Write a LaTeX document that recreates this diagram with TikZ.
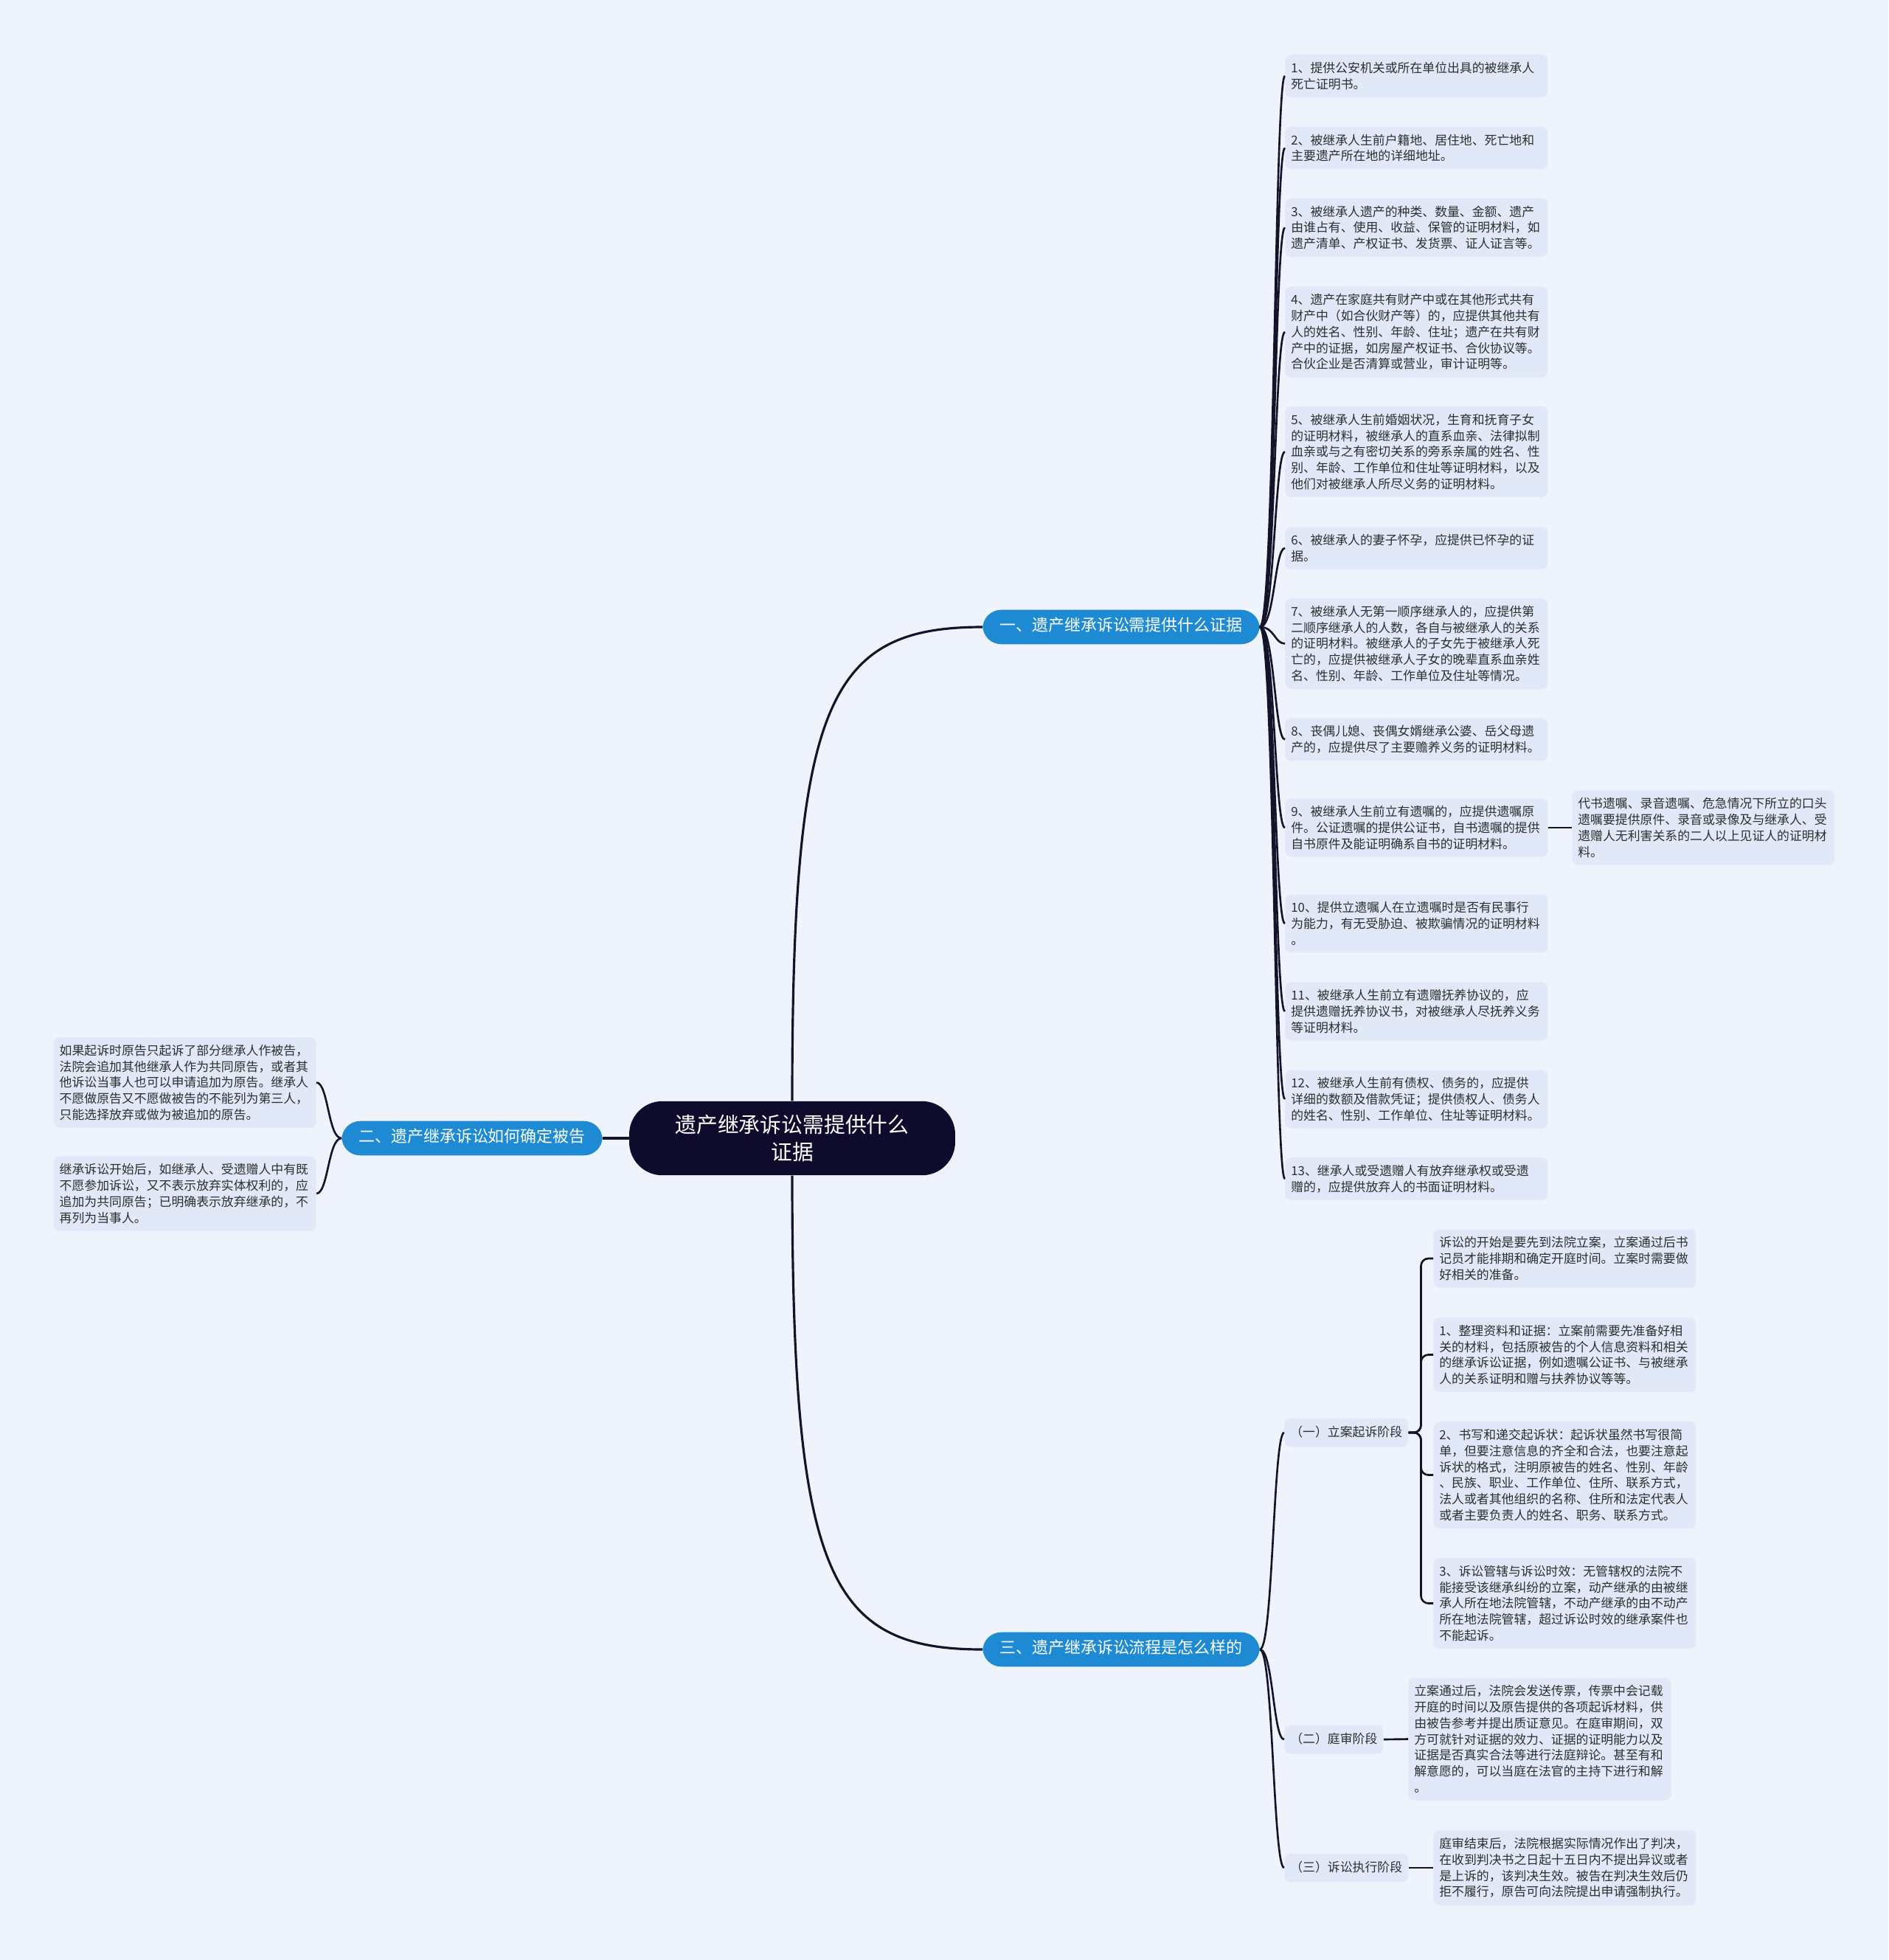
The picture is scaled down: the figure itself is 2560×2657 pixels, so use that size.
\documentclass[tikz,border=0pt]{standalone}
\usepackage{fontspec}
\setmainfont{Noto Sans CJK SC}
\definecolor{bgPale}{HTML}{EEF3FC}
\definecolor{leafFill}{HTML}{E1E9F8}
\definecolor{leafInk}{HTML}{2E2E2E}
\definecolor{topicBlue}{HTML}{1E8AD3}
\definecolor{rootNavy}{HTML}{0E0B2C}
\definecolor{linkInk}{HTML}{15132A}
\newcommand{\leafFont}{\fontsize{9.6}{12.4}\selectfont}
\tikzset{
  leaf/.style={fill=leafFill, text=leafInk, rounded corners=0.16cm, font=\leafFont,
               align=left, text width=6.8cm, inner xsep=0.16cm, inner ysep=0.2cm},
  stage/.style={fill=leafFill, text=leafInk, rounded corners=0.16cm, font=\leafFont,
                text height=0.8em, text depth=0.2em, inner xsep=0.16cm, inner ysep=0.21cm},
  topic/.style={fill=topicBlue, text=white, rounded corners=0.5cm, font=\fontsize{12.5}{15}\selectfont,
                text height=0.8em, text depth=0.2em, inner xsep=0.46cm, inner ysep=0.29cm},
  link/.style={draw=linkInk, line width=1.5pt},
  mainLink/.style={draw=linkInk, line width=1.8pt},
}
\begin{document}
\begin{tikzpicture}[x=0.02cm, y=-0.02cm]
  \fill[bgPale] (0,0) rectangle (2560,2657);
  \useasboundingbox (0,0) rectangle (2560,2657);
  % --- centre and the three topics ---
  \node[fill=rootNavy, text=white, rounded corners=0.9cm, align=center,
        font=\fontsize{16.4}{21}\selectfont, inner xsep=1.25cm, inner ysep=0.37cm]
    (root) at (1074,1543) {遗产继承诉讼需提供什么\\证据};
  \node[topic] (topicA) at (1520,850) {一、遗产继承诉讼需提供什么证据};
  \node[topic] (topicB) at (640,1543) {二、遗产继承诉讼如何确定被告};
  \node[topic] (topicC) at (1520,2236) {三、遗产继承诉讼流程是怎么样的};
  \draw[mainLink] (root.north) .. controls +(0,-540) and +(-210,0) .. (topicA.west);
  \draw[mainLink] (root.south) .. controls +(0,540) and +(-210,0) .. (topicC.west);
  \draw[mainLink] (root.west) -- (topicB.east);
  % --- topic one: the evidence list ---
  \node[leaf, anchor=west] (ev1) at (1742,103) {1、提供公安机关或所在单位出具的被继承人\\死亡证明书。};
  \node[leaf, anchor=west] (ev2) at (1742,200.5) {2、被继承人生前户籍地、居住地、死亡地和\\主要遗产所在地的详细地址。};
  \node[leaf, anchor=west] (ev3) at (1742,308.5) {3、被继承人遗产的种类、数量、金额、遗产\\由谁占有、使用、收益、保管的证明材料，如\\遗产清单、产权证书、发货票、证人证言等。};
  \node[leaf, anchor=west] (ev4) at (1742,450) {4、遗产在家庭共有财产中或在其他形式共有\\财产中（如合伙财产等）的，应提供其他共有\\人的姓名、性别、年龄、住址；遗产在共有财\\产中的证据，如房屋产权证书、合伙协议等。\\合伙企业是否清算或营业，审计证明等。};
  \node[leaf, anchor=west] (ev5) at (1742,612.5) {5、被继承人生前婚姻状况，生育和抚育子女\\的证明材料，被继承人的直系血亲、法律拟制\\血亲或与之有密切关系的旁系亲属的姓名、性\\别、年龄、工作单位和住址等证明材料，以及\\他们对被继承人所尽义务的证明材料。};
  \node[leaf, anchor=west] (ev6) at (1742,743) {6、被继承人的妻子怀孕，应提供已怀孕的证\\据。};
  \node[leaf, anchor=west] (ev7) at (1742,872.5) {7、被继承人无第一顺序继承人的，应提供第\\二顺序继承人的人数，各自与被继承人的关系\\的证明材料。被继承人的子女先于被继承人死\\亡的，应提供被继承人子女的晚辈直系血亲姓\\名、性别、年龄、工作单位及住址等情况。};
  \node[leaf, anchor=west] (ev8) at (1742,1002.5) {8、丧偶儿媳、丧偶女婿继承公婆、岳父母遗\\产的，应提供尽了主要赡养义务的证明材料。};
  \node[leaf, anchor=west] (ev9) at (1742,1122) {9、被继承人生前立有遗嘱的，应提供遗嘱原\\件。公证遗嘱的提供公证书，自书遗嘱的提供\\自书原件及能证明确系自书的证明材料。};
  \node[leaf, anchor=west] (ev10) at (1742,1252) {10、提供立遗嘱人在立遗嘱时是否有民事行\\为能力，有无受胁迫、被欺骗情况的证明材料\\。};
  \node[leaf, anchor=west] (ev11) at (1742,1371) {11、被继承人生前立有遗赠抚养协议的，应\\提供遗赠抚养协议书，对被继承人尽抚养义务\\等证明材料。};
  \node[leaf, anchor=west] (ev12) at (1742,1490) {12、被继承人生前有债权、债务的，应提供\\详细的数额及借款凭证；提供债权人、债务人\\的姓名、性别、工作单位、住址等证明材料。};
  \node[leaf, anchor=west] (ev13) at (1742,1598) {13、继承人或受遗赠人有放弃继承权或受遗\\赠的，应提供放弃人的书面证明材料。};
  \node[leaf, anchor=west] (evWill) at (2131,1122) {代书遗嘱、录音遗嘱、危急情况下所立的口头\\遗嘱要提供原件、录音或录像及与继承人、受\\遗赠人无利害关系的二人以上见证人的证明材\\料。};
  \foreach \i in {1,...,13} {
    \draw[link] (topicA.east) .. controls +(20,0) and +(-14,0) .. (ev\i.west);
  }
  \draw[link] (ev9.east) -- (evWill.west);
  % --- topic two: who is the defendant ---
  \node[leaf, anchor=east] (def1) at (429,1467.5) {如果起诉时原告只起诉了部分继承人作被告，\\法院会追加其他继承人作为共同原告，或者其\\他诉讼当事人也可以申请追加为原告。继承人\\不愿做原告又不愿做被告的不能列为第三人，\\只能选择放弃或做为被追加的原告。};
  \node[leaf, anchor=east] (def2) at (429,1618) {继承诉讼开始后，如继承人、受遗赠人中有既\\不愿参加诉讼，又不表示放弃实体权利的，应\\追加为共同原告；已明确表示放弃继承的，不\\再列为当事人。};
  \foreach \i in {1,2} {
    \draw[link] (topicB.west) .. controls +(-18,0) and +(16,0) .. (def\i.east);
  }
  % --- topic three: the stages ---
  \node[stage, anchor=west] (st1) at (1741,1942) {（一）立案起诉阶段};
  \node[stage, anchor=west] (st2) at (1741,2358) {（二）庭审阶段};
  \node[stage, anchor=west] (st3) at (1741,2532) {（三）诉讼执行阶段};
  \foreach \i in {1,2,3} {
    \draw[link] (topicC.east) .. controls +(18,0) and +(-15,0) .. (st\i.west);
  }
  \node[leaf, anchor=west] (stA1) at (1943,1706) {诉讼的开始是要先到法院立案，立案通过后书\\记员才能排期和确定开庭时间。立案时需要做\\好相关的准备。};
  \node[leaf, anchor=west] (stA2) at (1943,1836.5) {1、整理资料和证据：立案前需要先准备好相\\关的材料，包括原被告的个人信息资料和相关\\的继承诉讼证据，例如遗嘱公证书、与被继承\\人的关系证明和赠与扶养协议等等。};
  \node[leaf, anchor=west] (stA3) at (1943,1999.5) {2、书写和递交起诉状：起诉状虽然书写很简\\单，但要注意信息的齐全和合法，也要注意起\\诉状的格式，注明原被告的姓名、性别、年龄\\、民族、职业、工作单位、住所、联系方式，\\法人或者其他组织的名称、住所和法定代表人\\或者主要负责人的姓名、职务、联系方式。};
  \node[leaf, anchor=west] (stA4) at (1943,2173.5) {3、诉讼管辖与诉讼时效：无管辖权的法院不\\能接受该继承纠纷的立案，动产继承的由被继\\承人所在地法院管辖，不动产继承的由不动产\\所在地法院管辖，超过诉讼时效的继承案件也\\不能起诉。};
  \foreach \i in {1,...,4} {
    \draw[link, rounded corners=0.2cm] (st1.east) -- ++(17,0) |- (stA\i.west);
  }
  \node[leaf, anchor=west] (stB) at (1909,2357.5) {立案通过后，法院会发送传票，传票中会记载\\开庭的时间以及原告提供的各项起诉材料，供\\由被告参考并提出质证意见。在庭审期间，双\\方可就针对证据的效力、证据的证明能力以及\\证据是否真实合法等进行法庭辩论。甚至有和\\解意愿的，可以当庭在法官的主持下进行和解\\。};
  \node[leaf, anchor=west] (stC) at (1943,2532) {庭审结束后，法院根据实际情况作出了判决，\\在收到判决书之日起十五日内不提出异议或者\\是上诉的，该判决生效。被告在判决生效后仍\\拒不履行，原告可向法院提出申请强制执行。};
  \draw[link] (st2.east) -- (stB.west);
  \draw[link] (st3.east) -- (stC.west);
\end{tikzpicture}
\end{document}
